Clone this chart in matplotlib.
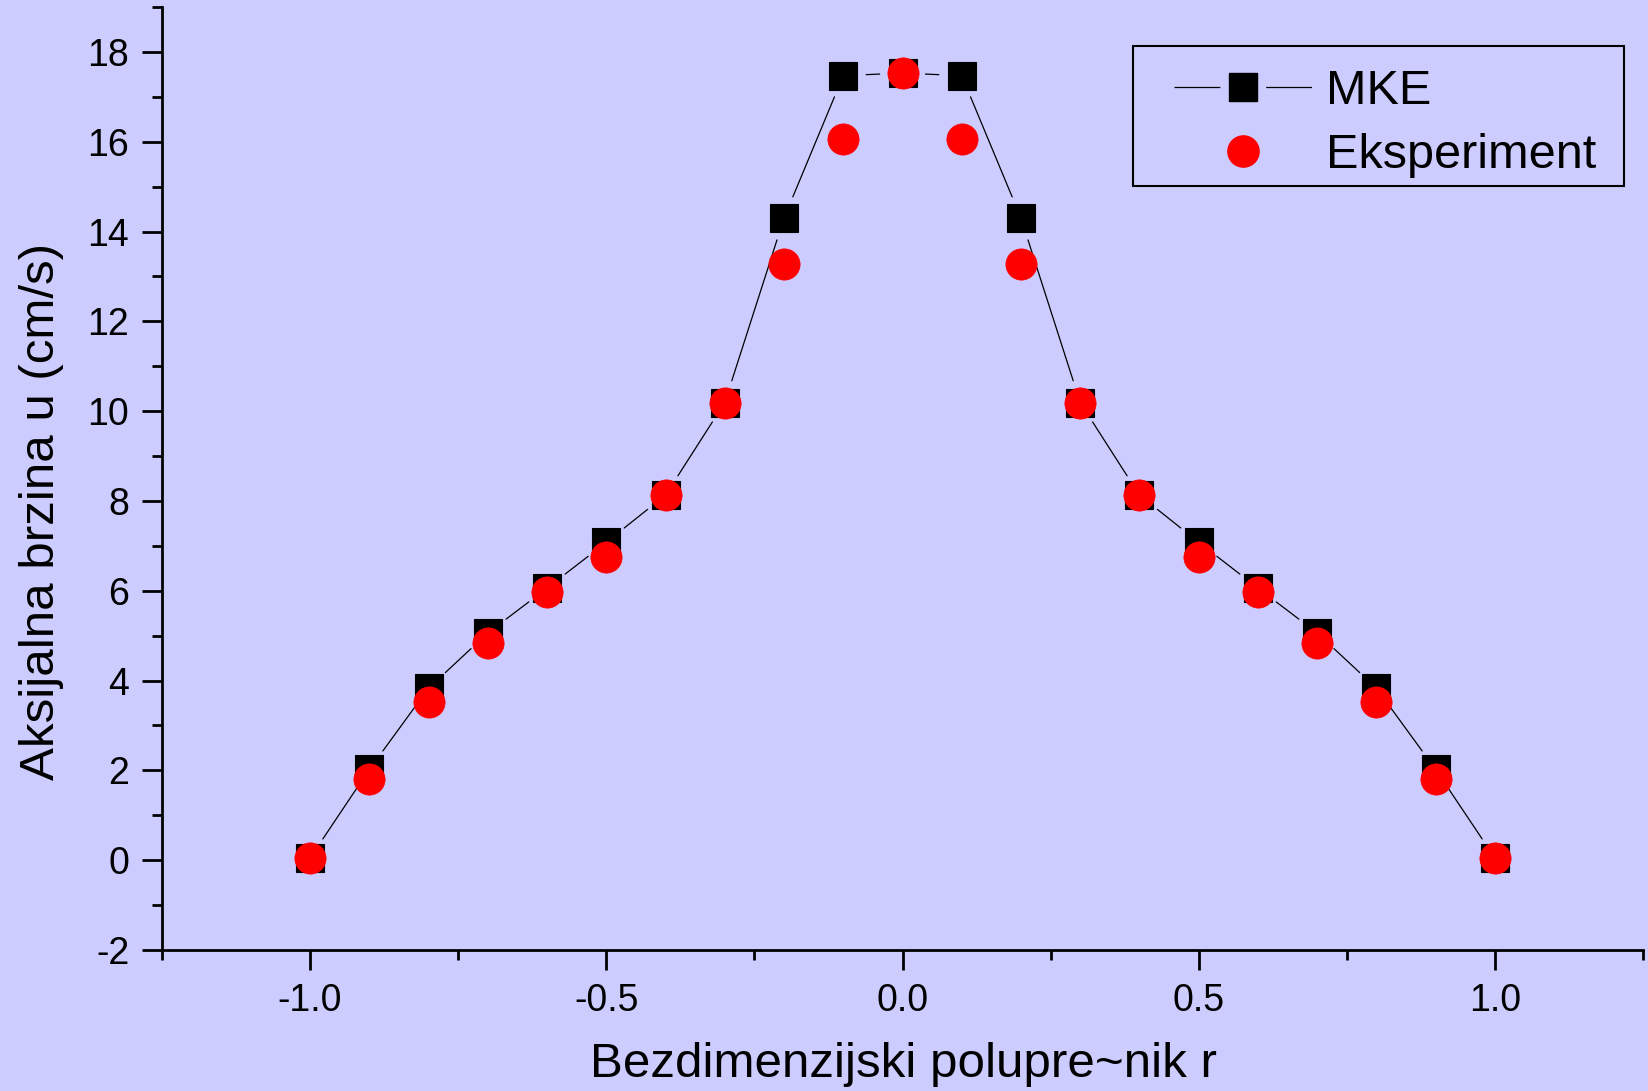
import matplotlib
matplotlib.use("Agg")
import matplotlib.pyplot as plt
from matplotlib.lines import Line2D
from matplotlib.patches import Rectangle
from matplotlib.ticker import MultipleLocator

# Dimensionless radius and axial velocity profiles
r = [-1.0, -0.9, -0.8, -0.7, -0.6, -0.5, -0.4, -0.3, -0.2, -0.1, 0.0,
     0.1, 0.2, 0.3, 0.4, 0.5, 0.6, 0.7, 0.8, 0.9, 1.0]
u_mke = [0.05, 2.02, 3.83, 5.06, 6.06, 7.08, 8.13, 10.19, 14.30, 17.47, 17.53,
         17.47, 14.30, 10.19, 8.13, 7.08, 6.06, 5.06, 3.83, 2.02, 0.05]
u_exp = [0.05, 1.80, 3.52, 4.83, 5.98, 6.75, 8.13, 10.19, 13.27, 16.05, 17.53,
         16.05, 13.27, 10.19, 8.13, 6.75, 5.98, 4.83, 3.52, 1.80, 0.05]

series_labels = ["MKE", "Eksperiment"]
x_label = "Bezdimenzijski polupre~nik r"
y_label = "Aksijalna brzina u (cm/s)"

BG = "#ccccff"
W, H = 1648, 1091
plt.rcParams["font.family"] = ["Liberation Sans", "DejaVu Sans"]
plt.rcParams["axes.unicode_minus"] = False
plt.rcParams["lines.scale_dashes"] = False

fig = plt.figure(figsize=(W / 100, H / 100), dpi=100, facecolor=BG)
ax = fig.add_axes([162 / W, 1 - 950 / H, (1643 - 162) / W, (950 - 7) / H])
ax.set_facecolor(BG)

ax.set_xlim(-1.25, 1.25)
ax.set_ylim(-2, 19)

# connecting line segments, interrupted around each marker
for i in range(len(r) - 1):
    ax.annotate("", xy=(r[i + 1], u_mke[i + 1]), xytext=(r[i], u_mke[i]),
                arrowprops=dict(arrowstyle="-", color="black", lw=0.9,
                                shrinkA=16.5, shrinkB=16.5),
                zorder=2)

ax.plot(r, u_mke, linestyle="none", marker="s", markersize=20.5,
        markerfacecolor="black", markeredgecolor="black", markeredgewidth=0.8,
        zorder=3)
ax.plot(r, u_exp, linestyle="none", marker="o", markersize=22.5,
        markerfacecolor="#ff0000", markeredgecolor="#ff0000", markeredgewidth=0.5,
        zorder=4)

for side in ("top", "right"):
    ax.spines[side].set_visible(False)
for side in ("left", "bottom"):
    ax.spines[side].set_linewidth(2.0)

ax.xaxis.set_major_locator(MultipleLocator(0.5))
ax.xaxis.set_minor_locator(MultipleLocator(0.25))
ax.yaxis.set_major_locator(MultipleLocator(2))
ax.yaxis.set_minor_locator(MultipleLocator(1))
ax.xaxis.set_major_formatter(plt.FuncFormatter(lambda v, p: f"{v:.1f}"))
ax.yaxis.set_major_formatter(plt.FuncFormatter(lambda v, p: f"{v:.0f}"))

ax.tick_params(which="major", direction="out", length=14.5, width=2.0,
               labelsize=27, pad=9)
ax.tick_params(which="minor", direction="out", length=7.2, width=2.0)

ax.set_xlabel(x_label, fontsize=35.5)
ax.set_ylabel(y_label, fontsize=35.5)
ax.xaxis.set_label_coords(0.501, -0.098)
ax.yaxis.set_label_coords(-0.066, 0.4645)

# legend box
fig.patches.append(Rectangle((1133 / W, 1 - 186 / H), (1624 - 1133) / W, (186 - 46) / H,
                             transform=fig.transFigure, facecolor="none",
                             edgecolor="black", linewidth=1.5, zorder=5))

# legend entries
h_mke = Line2D([], [], color="black", lw=0.9, linestyle=(0, (33, 33)),
               marker="s", markersize=20.5, markerfacecolor="black",
               markeredgecolor="black")
h_exp = Line2D([], [], linestyle="none", marker="o", markersize=22.5,
               markerfacecolor="#ff0000", markeredgecolor="#ff0000")
leg = ax.legend([h_mke, h_exp], series_labels, loc="upper left",
                bbox_to_anchor=(1174 / W, 1 - 69 / H),
                bbox_transform=fig.transFigure, borderaxespad=0, borderpad=0,
                fontsize=35, numpoints=1, handlelength=2.83, handletextpad=0.3,
                labelspacing=0.40, frameon=False)

fig.savefig("out.png", dpi=100, facecolor=BG)
